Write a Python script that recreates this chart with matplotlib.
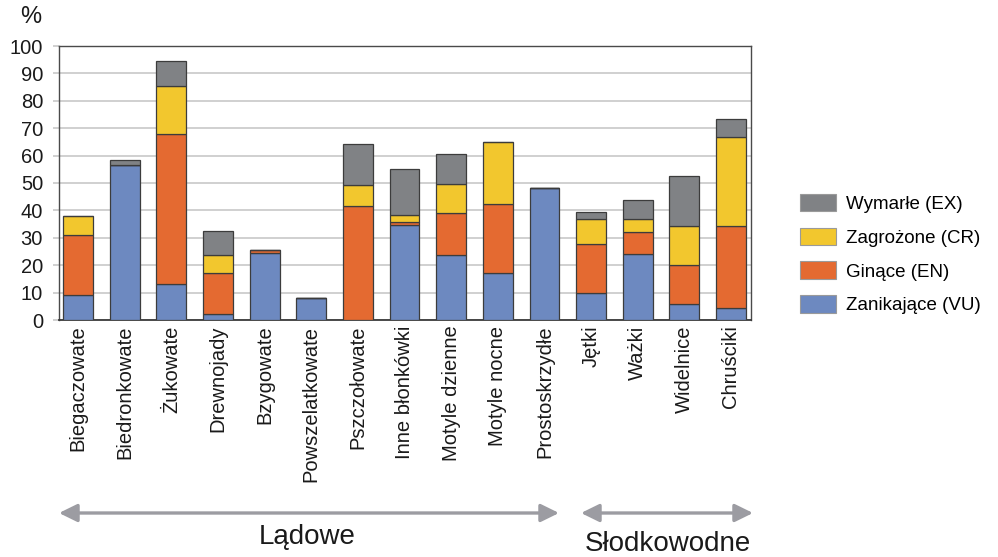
import matplotlib
matplotlib.use("Agg")
import matplotlib.pyplot as plt
import numpy as np
from matplotlib.patches import Patch, FancyArrowPatch

plt.rcParams['font.family'] = ['Liberation Sans', 'DejaVu Sans']

categories = ["Biegaczowate", "Biedronkowate", "Żukowate", "Drewnojady", "Bzygowate",
              "Powszelatkowate", "Pszczołowate", "Inne błonkówki", "Motyle dzienne",
              "Motyle nocne", "Prostoskrzydłe", "Jętki", "Ważki", "Widelnice", "Chruściki"]

# segment heights (%)
vu = [9.0, 56.5, 13.2, 2.2, 24.5, 8.2, 0.0, 34.7, 23.8, 17.2, 48.1, 9.9, 24.0, 5.9, 4.5]
en = [22.0, 0.0, 54.6, 15.0, 1.1, 0.0, 41.6, 1.1, 15.2, 25.1, 0.0, 17.7, 8.0, 14.1, 29.7]
cr = [6.9, 0.0, 17.7, 6.7, 0.0, 0.0, 7.6, 2.7, 10.8, 22.5, 0.0, 9.1, 5.0, 14.4, 32.7]
ex = [0.0, 1.8, 8.9, 8.5, 0.0, 0.0, 15.0, 16.5, 10.7, 0.0, 0.0, 2.8, 6.8, 18.3, 6.6]

series_labels = ["Zanikające (VU)", "Ginące (EN)", "Zagrożone (CR)", "Wymarłe (EX)"]
colors = ["#6d89c0", "#e46a31", "#f2c72e", "#808285"]
group_labels = ["Lądowe", "Słodkowodne"]

fig = plt.figure(figsize=(9.98, 5.57), dpi=100)
ax = fig.add_axes([59/998, 1-320/557, (751-59)/998, (320-46)/557])

x = np.arange(len(categories))
bottom = np.zeros(len(categories))
handles = []
for vals, col, lab in zip([vu, en, cr, ex], colors, series_labels):
    vals = np.array(vals)
    ax.bar(x, vals, 0.64, bottom=bottom, color=col, edgecolor="#3c3c3c", linewidth=0.9, zorder=3)
    bottom += vals
    handles.append(Patch(facecolor=col, edgecolor="#9a9a9a", linewidth=0.8, label=lab))

ax.set_xlim(-0.41, len(categories) - 1 + 0.43)
ax.set_ylim(0, 100)
ax.set_yticks(np.arange(0, 101, 10))
ax.yaxis.grid(True, color="#c8c8c8", linewidth=1.2, zorder=0)
ax.set_axisbelow(True)
ax.set_xticks(x)
ax.set_xticklabels(categories, rotation=90, fontsize=14.5, va="top", ha="center", color="#1a1a1a")
ax.tick_params(axis="x", length=0, pad=4)
ax.tick_params(axis="y", length=4.5, color="#c8c8c8", width=1.2, labelsize=14.5, pad=7, labelcolor="#1a1a1a")
for s in ["top", "right", "left"]:
    ax.spines[s].set_color("#4a4a4a")
    ax.spines[s].set_linewidth(1.0)
ax.spines["bottom"].set_color("#3a3a3a")
ax.spines["bottom"].set_linewidth(1.3)

fig.text(31/998, 1-17/557, "%", fontsize=17, ha="center", va="center", color="#1a1a1a")

leg = fig.legend(handles=handles[::-1], loc="upper left", bbox_to_anchor=(800/998, 1-194/557),
                 frameon=False, fontsize=13.5, handlelength=1.9, handleheight=1.05,
                 labelspacing=0.78, handletextpad=0.55, borderaxespad=0, borderpad=0)

arrow_col = "#9c9ca2"
for (x0, x1) in [(59, 559), (581, 753)]:
    arr = FancyArrowPatch((x0/998, 1-513/557), (x1/998, 1-513/557), transform=fig.transFigure,
                          arrowstyle="<|-|>,head_length=0.55,head_width=0.27", mutation_scale=20,
                          color=arrow_col, linewidth=2.4, shrinkA=0, shrinkB=0)
    fig.add_artist(arr)

fig.text(307/998, 1-537/557, group_labels[0], fontsize=20, ha="center", va="center", color="#1a1a1a")
fig.text(668/998, 1-544/557, group_labels[1], fontsize=20, ha="center", va="center", color="#1a1a1a")

fig.savefig("out.png", dpi=100)
